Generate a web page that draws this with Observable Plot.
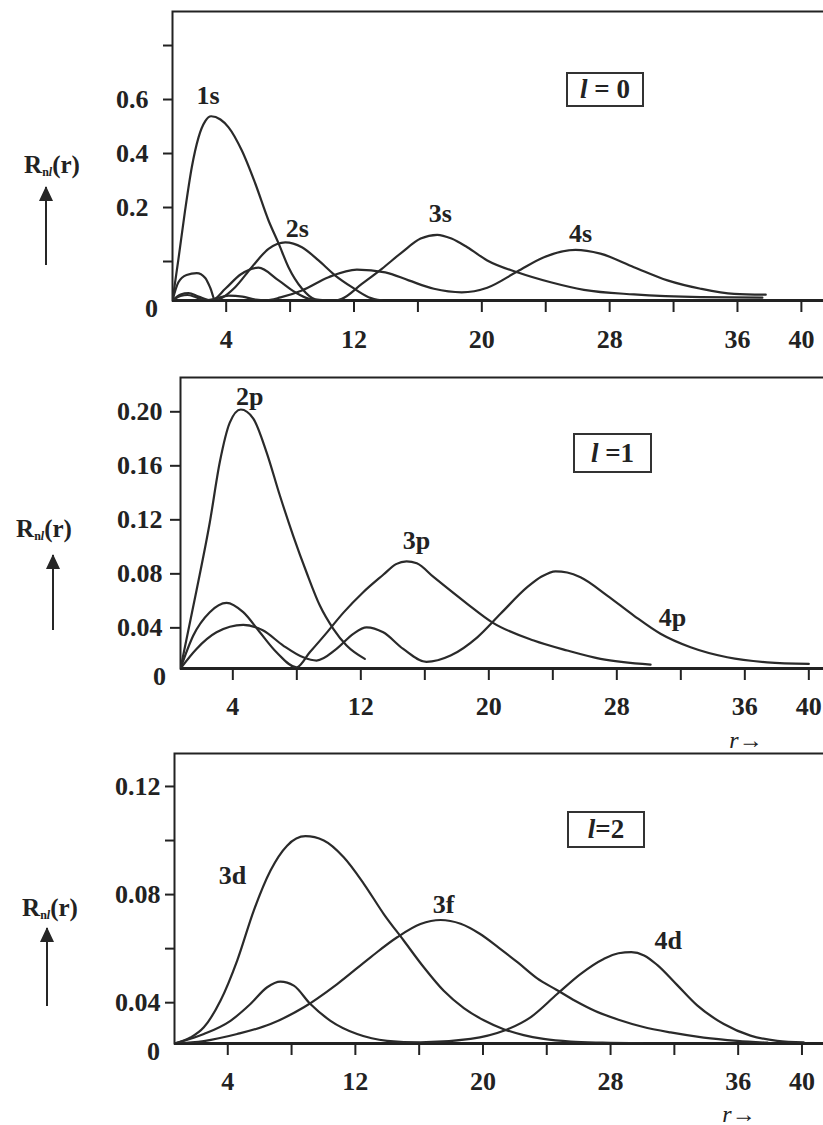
<!DOCTYPE html>
<html>
<head>
<meta charset="utf-8">
<script src="https://cdn.jsdelivr.net/npm/d3@7"></script>
<script src="https://cdn.jsdelivr.net/npm/@observablehq/plot@0.6"></script>
<style>
  html, body { margin: 0; padding: 0; background: #fff; overflow: hidden; }
  #root { position: relative; width: 823px; height: 1125px; overflow: hidden; }
  .panel { position: absolute; left: 0; width: 860px; }
  .panel svg { max-width: none !important; width: 860px; }
  .ov { position: absolute; font-family: 'Liberation Serif','Times New Roman',serif; color: #222; font-weight: bold; white-space: nowrap; }
  .rlab { font-size: 25px; transform: translate(-50%, -50%); }
  .rlab sub { font-size: 12px; vertical-align: -3px; }
  .box { border: 2px solid #333; box-sizing: border-box; font-size: 27px; display: flex; align-items: center; justify-content: center; }
  .arrow { position: absolute; width: 2px; background: #262626; }
  .arrow::before { content: ""; position: absolute; left: -6px; top: -1px; border-left: 7px solid transparent; border-right: 7px solid transparent; border-bottom: 15px solid #262626; }
  .raxis { font-size: 24px; font-weight: normal; font-style: italic; transform: translate(-50%, -50%); }
</style>
</head>
<body>
<div id="root"></div>
<script>
// ---------- axis ticks ----------
const xTicks = [4, 8, 12, 16, 20, 24, 28, 32, 36, 40];
const xTickLabels = ["4", "", "12", "", "20", "", "28", "", "36", "40"];
const zeroLabel = "0";

const yTicksL0 = [0, 0.2, 0.4, 0.6, 0.8];
const yTickLabelsL0 = ["", "0.2", "0.4", "0.6", ""];
const yTicksL1 = [0.04, 0.08, 0.12, 0.16, 0.20];
const yTickLabelsL1 = ["0.04", "0.08", "0.12", "0.16", "0.20"];
const yTicksL2 = [0.04, 0.06, 0.08, 0.10, 0.12];
const yTickLabelsL2 = ["0.04", "", "0.08", "", "0.12"];

// ---------- l = 0 ----------
const r1s = [0.64, 1.0, 1.43, 1.85, 2.27, 2.69, 3.06, 3.64, 4.15, 4.98, 5.82, 6.65, 7.28, 7.9, 8.74, 9.57, 10.2];
const v1s = [-0.144, 0.004, 0.19, 0.35, 0.46, 0.52, 0.538, 0.526, 0.497, 0.411, 0.289, 0.152, 0.067, -0.021, -0.100, -0.140, -0.144];
const r2s = [0.64, 1.01, 1.52, 2.16, 2.69, 3.02, 3.31, 3.77, 4.56, 5.6, 6.65, 7.7, 8.74, 9.78, 10.83, 11.87, 12.91, 13.74];
const v2s = [-0.144, -0.077, -0.05, -0.043, -0.061, -0.1, -0.144, -0.133, -0.095, -0.021, 0.047, 0.071, 0.053, 0.004, -0.052, -0.095, -0.132, -0.144];
const r3s = [0.64, 1.14, 1.64, 2.27, 3.08, 3.96, 4.9, 6.02, 7.28, 8.32, 9.15, 10.2, 10.83, 11.24, 12.49, 13.74, 15.0, 16.17, 17.21, 18.1, 19.09, 20.34, 22.22, 24.31, 26.39, 29.52, 33.7, 37.56];
const v3s = [-0.144, -0.122, -0.117, -0.13, -0.144, -0.1, -0.048, -0.023, -0.07, -0.114, -0.137, -0.144, -0.144, -0.138, -0.083, -0.027, 0.034, 0.085, 0.099, 0.085, 0.053, 0.004, -0.04, -0.077, -0.105, -0.122, -0.132, -0.134];
const r4s = [0.64, 1.14, 1.58, 2.14, 2.7, 3.33, 4.15, 5.02, 5.84, 6.44, 7.4, 8.74, 10.41, 12.18, 13.96, 15.42, 17.0, 18.74, 20.34, 22.22, 23.89, 25.87, 27.42, 29.52, 31.62, 33.7, 35.79, 37.77];
const v4s = [-0.144, -0.128, -0.124, -0.133, -0.144, -0.137, -0.126, -0.13, -0.141, -0.144, -0.133, -0.107, -0.058, -0.030, -0.04, -0.07, -0.101, -0.114, -0.097, -0.037, 0.016, 0.043, 0.029, -0.021, -0.07, -0.101, -0.12, -0.123];

// ---------- l = 1 ----------
const r2p = [0.73, 1.73, 2.56, 3.19, 3.81, 4.5, 5.28, 6.11, 6.94, 7.78, 8.61, 9.44, 10.28, 11.11, 12.25];
const v2p = [0.0099, 0.0676, 0.118, 0.163, 0.192, 0.2017, 0.195, 0.170, 0.138, 0.108, 0.081, 0.0565, 0.0393, 0.0269, 0.017];
const r3p = [0.73, 1.53, 2.56, 3.61, 4.65, 5.69, 6.73, 7.98, 8.81, 9.86, 10.9, 12.15, 13.4, 14.2, 14.86, 15.5, 16.56, 18.65, 20.21, 22.81, 24.9, 26.98, 30.11];
const v3p = [0.0099, 0.0343, 0.0516, 0.0585, 0.0516, 0.0367, 0.0219, 0.0108, 0.0219, 0.0363, 0.0511, 0.0664, 0.0793, 0.0872, 0.0893, 0.0878, 0.0775, 0.0578, 0.0441, 0.0306, 0.0232, 0.017, 0.0128];
const r4p = [0.73, 1.73, 2.98, 4.65, 5.9, 7.15, 8.4, 9.23, 10.48, 11.53, 12.36, 13.4, 14.65, 16.1, 17.61, 19.28, 20.73, 22.4, 23.3, 24.17, 24.9, 25.73, 27.4, 29.06, 30.73, 32.61, 34.9, 37.4, 40.0];
const v4p = [0.0099, 0.0244, 0.0367, 0.0422, 0.038, 0.0269, 0.0182, 0.0158, 0.0244, 0.0356, 0.0404, 0.0367, 0.0244, 0.0148, 0.0195, 0.033, 0.0504, 0.0701, 0.0780, 0.0819, 0.0810, 0.0775, 0.0639, 0.0491, 0.0356, 0.0256, 0.0182, 0.0145, 0.0133];

// ---------- l = 2 ----------
const r3d = [0.66, 1.66, 2.5, 3.54, 4.59, 5.63, 6.68, 7.72, 8.87, 10.02, 11.27, 12.53, 13.78, 15.03, 16.29, 17.54, 18.8, 20.05, 21.3, 22.55, 23.8, 25.5, 27.5, 30.0];
const v3d = [0.0249, 0.0271, 0.0309, 0.0407, 0.0556, 0.0741, 0.0889, 0.0981, 0.1016, 0.1, 0.0938, 0.084, 0.0728, 0.063, 0.0531, 0.0444, 0.038, 0.0335, 0.0302, 0.028, 0.0266, 0.0256, 0.0252, 0.025];
const r3f = [0.66, 2.5, 4.59, 6.68, 8.77, 10.86, 12.95, 14.62, 16.08, 17.34, 18.6, 19.8, 21.0, 22.2, 23.4, 24.6, 25.8, 27.0, 28.5, 30.0, 31.76, 33.84, 35.94, 37.84];
const v3f = [0.0249, 0.0258, 0.0284, 0.0321, 0.0383, 0.0469, 0.0568, 0.0642, 0.0691, 0.0706, 0.0692, 0.0655, 0.0603, 0.0548, 0.0490, 0.0448, 0.0406, 0.0370, 0.0337, 0.0311, 0.029, 0.0271, 0.0259, 0.0252];
const r4d = [0.66, 2.5, 4.17, 5.42, 6.47, 7.3, 8.14, 9.18, 10.44, 12.11, 13.99, 16.08, 19.22, 21.3, 22.98, 24.65, 26.11, 27.57, 28.5, 29.3, 30.1, 30.92, 32.18, 33.43, 35.1, 36.77, 38.45, 40.11];
const v4d = [0.0249, 0.0284, 0.0333, 0.0395, 0.0457, 0.0478, 0.0463, 0.0395, 0.0333, 0.0284, 0.0259, 0.0253, 0.0266, 0.0296, 0.0346, 0.0432, 0.0506, 0.0562, 0.0583, 0.0587, 0.0575, 0.0540, 0.0465, 0.0390, 0.0321, 0.0278, 0.0259, 0.0253];

// ---------- drawing ----------
const FONT = "'Liberation Serif','Times New Roman',serif";
const INK = "#222";
const root = document.getElementById("root");

function rows(name, rs, vs) { return rs.map((r, i) => ({ name, r, v: vs[i] })); }

function panel(cfg) {
  const data = cfg.series.flatMap(s => rows(s.name, s.r, s.v));
  const xMap = new Map(xTicks.map((t, i) => [t, xTickLabels[i]]));
  const yMap = new Map(cfg.yTicks.map((t, i) => [t, cfg.yLabels[i]]));
  const labelMarks = cfg.series.map(s => {
    const peak = d3.greatest(rows(s.name, s.r, s.v), d => d.v);
    return Plot.text([peak], { x: "r", y: "v", text: "name", dx: s.dx, dy: s.dy, fill: INK, fontSize: 26, fontWeight: "bold" });
  });
  const height = cfg.baseline - cfg.top + cfg.marginBottom;
  const chart = Plot.plot({
    width: 860,
    height,
    marginTop: cfg.marginTop,
    marginLeft: cfg.marginLeft,
    marginRight: 0,
    marginBottom: cfg.marginBottom,
    x: { domain: cfg.xDomain },
    y: { domain: cfg.yDomain },
    style: { fontFamily: FONT, fontSize: "26px", fontWeight: "bold", color: INK, background: "transparent", overflow: "visible", maxWidth: "none" },
    marks: [
      Plot.frame({ stroke: INK, strokeWidth: 2 }),
      Plot.ruleY([cfg.yDomain[0]], { stroke: INK, strokeWidth: 3 }),
      Plot.axisX({ ticks: xTicks, tickFormat: d => xMap.get(d), label: null, tickSize: 12, tickPadding: cfg.xTickPadding, strokeWidth: 2, stroke: INK, fill: INK }),
      Plot.axisY({ ticks: cfg.yTicks, tickFormat: d => yMap.get(d), label: null, tickSize: cfg.yTickSize, tickPadding: cfg.yTickPadding, strokeWidth: 2, stroke: INK, fill: INK }),
      Plot.line(data, { x: "r", y: "v", z: "name", stroke: "#2a2a2a", strokeWidth: 2.2, curve: "monotone-x", clip: true }),
      Plot.text([zeroLabel], { x: () => cfg.xDomain[0], y: () => cfg.yDomain[0], text: d => d, dx: -21, dy: 8, fill: INK }),
      ...labelMarks
    ]
  });
  const wrap = document.createElement("div");
  wrap.className = "panel";
  wrap.style.top = cfg.top + "px";
  wrap.appendChild(chart);
  root.appendChild(wrap);
}

panel({
  top: 0, marginTop: 11, marginLeft: 172, baseline: 300, marginBottom: 60,
  xDomain: [0.64, 43.7], yDomain: [-0.1444, 0.926],
  yTicks: yTicksL0, yLabels: yTickLabelsL0, yTickSize: 9, yTickPadding: 15, xTickPadding: 17,
  series: [
    { name: "1s", r: r1s, v: v1s, dx: -3, dy: -21 },
    { name: "2s", r: r2s, v: v2s, dx: 12, dy: -14 },
    { name: "3s", r: r3s, v: v3s, dx: 3, dy: -21 },
    { name: "4s", r: r4s, v: v4s, dx: 5, dy: -16 }
  ]
});

panel({
  top: 360, marginTop: 17, marginLeft: 180, baseline: 668, marginBottom: 60,
  xDomain: [0.73, 43.23], yDomain: [0.0099, 0.2254],
  yTicks: yTicksL1, yLabels: yTickLabelsL1, yTickSize: 10, yTickPadding: 8, xTickPadding: 16,
  series: [
    { name: "2p", r: r2p, v: v2p, dx: 9, dy: -13 },
    { name: "3p", r: r3p, v: v3p, dx: 10, dy: -21 },
    { name: "4p", r: r4p, v: v4p, dx: 117, dy: 46 }
  ]
});

panel({
  top: 740, marginTop: 13, marginLeft: 174, baseline: 1043, marginBottom: 60,
  xDomain: [0.66, 43.67], yDomain: [0.0249, 0.1322],
  yTicks: yTicksL2, yLabels: yTickLabelsL2, yTickSize: 9, yTickPadding: 5, xTickPadding: 16,
  series: [
    { name: "3d", r: r3d, v: v3d, dx: -73, dy: 39 },
    { name: "3f", r: r3f, v: v3f, dx: 3, dy: -15 },
    { name: "4d", r: r4d, v: v4d, dx: 37, dy: -11 }
  ]
});

// ---------- overlays: axis titles, arrows, l boxes ----------
function addDiv(cls, html, style) {
  const d = document.createElement("div");
  d.className = cls;
  d.innerHTML = html;
  Object.assign(d.style, style);
  root.appendChild(d);
  return d;
}
const rTitle = "R<sub>n<i>l</i></sub>(r)";
[[52, 165], [44, 529], [50, 908]].forEach(([x, y]) => addDiv("ov rlab", rTitle, { left: x + "px", top: y + "px" }));
[[45, 187, 265], [52, 555, 630], [46, 928, 1006]].forEach(([x, t, b]) =>
  addDiv("arrow", "", { left: x + "px", top: t + "px", height: (b - t) + "px" }));
addDiv("ov box", "<i>l</i>&nbsp;=&nbsp;0", { left: "566px", top: "72px", width: "78px", height: "35px" });
addDiv("ov box", "<i>l</i>&nbsp;=1", { left: "573px", top: "433px", width: "79px", height: "40px" });
addDiv("ov box", "<i>l</i>=2", { left: "567px", top: "811px", width: "78px", height: "37px" });
addDiv("ov raxis", "r&rarr;", { left: "746px", top: "740px" });
addDiv("ov raxis", "r&rarr;", { left: "739px", top: "1114px" });
</script>
</body>
</html>
